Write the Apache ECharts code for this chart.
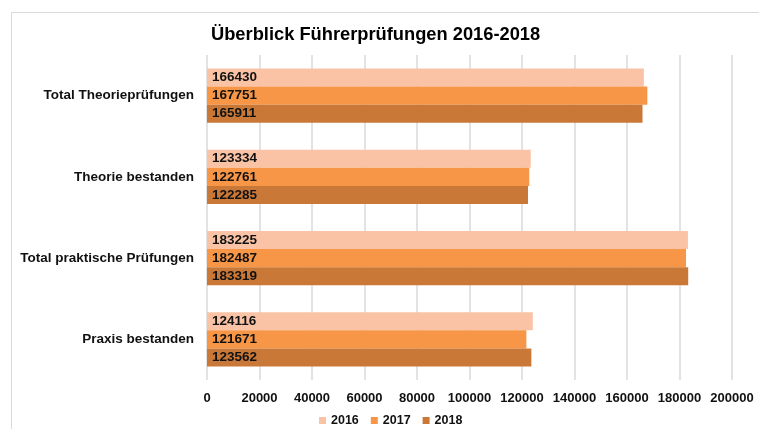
<!DOCTYPE html>
<html>
<head>
<meta charset="utf-8">
<script src="https://cdn.jsdelivr.net/npm/echarts@6/dist/echarts.min.js"></script>
<style>
  html, body { margin: 0; padding: 0; background: #fff; }
  #chart { width: 759px; height: 429px; }
</style>
</head>
<body>
<div id="chart"></div>
<script>
const categories = ['Total Theorieprüfungen', 'Theorie bestanden', 'Total praktische Prüfungen', 'Praxis bestanden'];
const years = ['2016', '2017', '2018'];
const values2016 = [166430, 123334, 183225, 124116];
const values2017 = [167751, 122761, 182487, 121671];
const values2018 = [165911, 122285, 183319, 123562];
const colors = ['#FAC3A6', '#F79646', '#C97838'];

const font = 'Liberation Sans';

const chart = echarts.init(document.getElementById('chart'));
chart.setOption({
    color: colors,
    animation: false,
    textStyle: { fontFamily: font },
    graphic: [{
        type: 'rect',
        shape: { x: 11.5, y: 12.5, width: 760, height: 430 },
        style: { fill: 'none', stroke: '#d9d9d9', lineWidth: 1 },
        silent: true,
    }],
    title: {
        text: 'Überblick Führerprüfungen 2016-2018',
        left: 206,
        top: 21,
        textStyle: { fontSize: 18.3, fontWeight: 'bold', color: '#000', fontFamily: font },
    },
    legend: {
        data: years,
        top: 414,
        left: 319,
        padding: 0,
        itemWidth: 7,
        itemHeight: 7,
        itemGap: 12,
        itemTextGap: 6,
        icon: 'rect',
        textStyle: { fontSize: 12.5, fontWeight: 'bold', color: '#111' },
    },
    grid: { left: 207, right: 27, top: 55, bottom: 49 },
    xAxis: {
        type: 'value',
        min: 0,
        max: 200000,
        interval: 20000,
        axisLine: { show: false },
        axisTick: { show: false },
        axisLabel: { fontSize: 13, fontWeight: 'bold', color: '#111', margin: 12, formatter: v => String(v) },
        splitLine: { lineStyle: { color: '#e3e3e3', width: 2 } },
    },
    yAxis: {
        type: 'category',
        data: categories,
        inverse: true,
        axisLine: { show: false },
        axisTick: { show: false },
        axisLabel: { fontSize: 13.5, fontWeight: 'bold', color: '#111', margin: 13 },
    },
    series: [values2016, values2017, values2018].map((vals, i) => ({
        name: years[i],
        type: 'bar',
        data: vals,
        barGap: '0%',
        barCategoryGap: '33%',
        label: {
            show: true,
            position: 'insideLeft',
            distance: 5,
            fontSize: 13.5,
            fontWeight: 'bold',
            color: '#111',
        },
    })),
});
</script>
</body>
</html>
